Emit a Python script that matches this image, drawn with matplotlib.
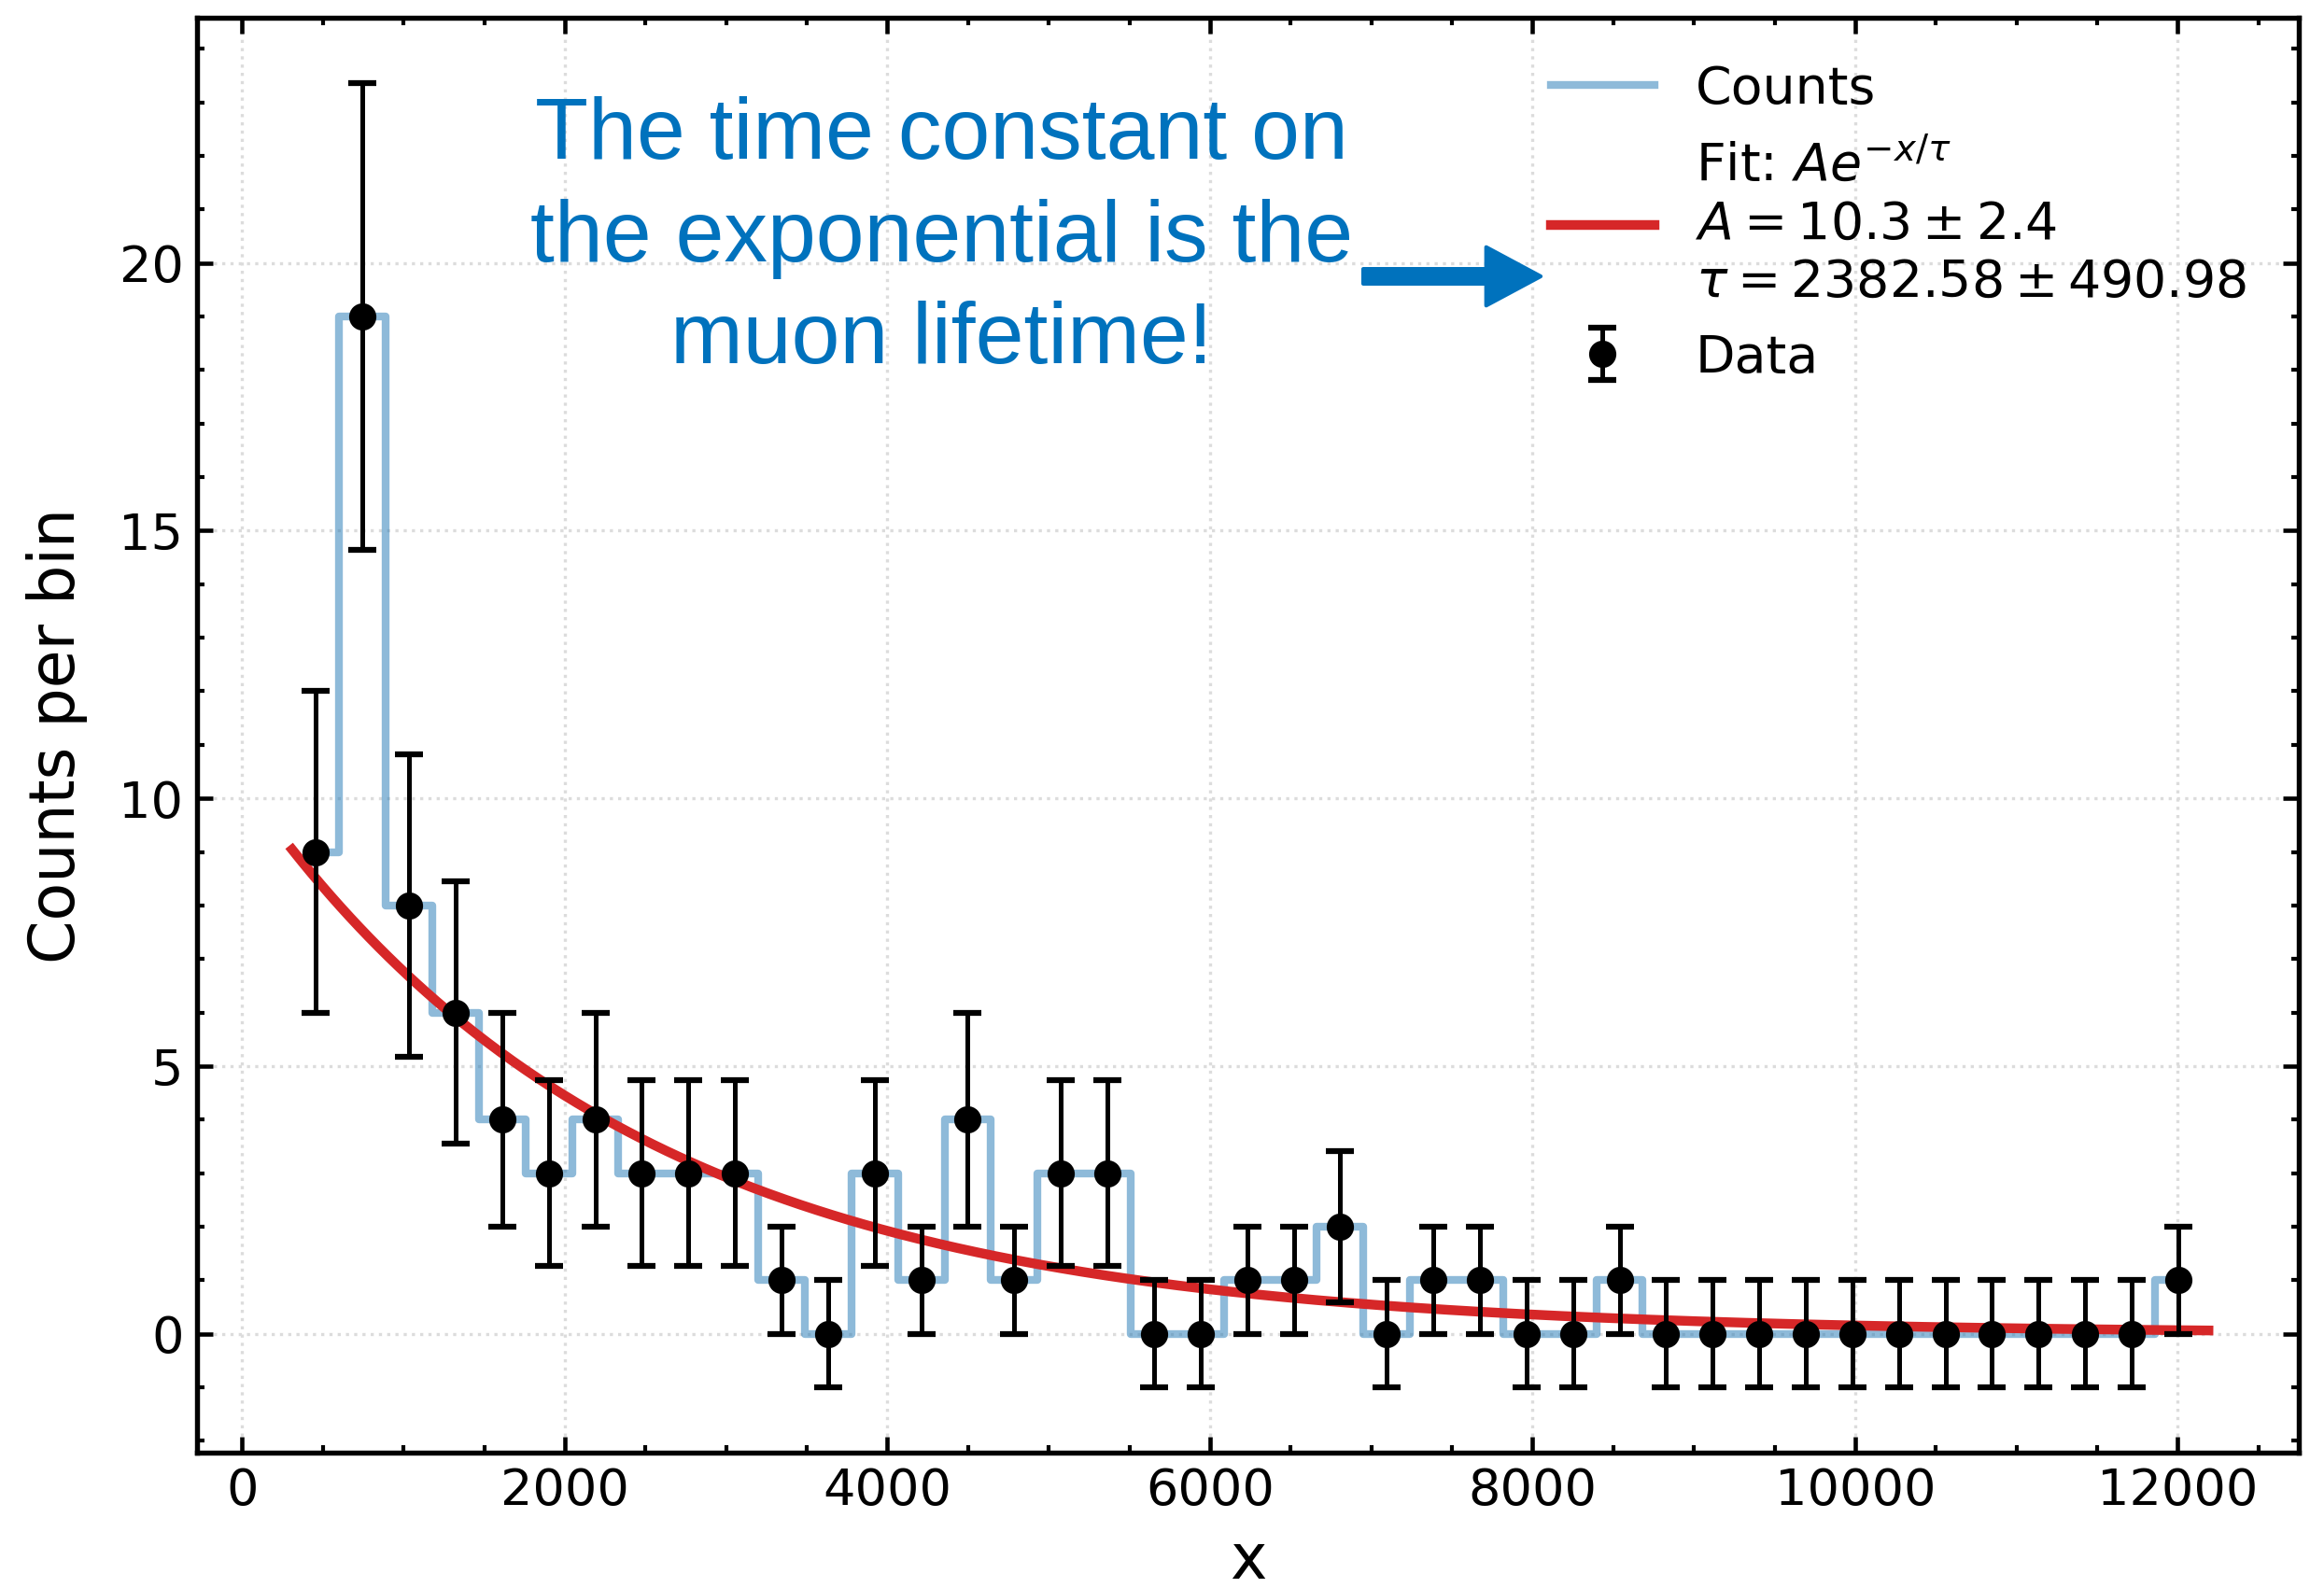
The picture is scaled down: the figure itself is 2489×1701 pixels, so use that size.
import numpy as np
import matplotlib
matplotlib.use("Agg")
import matplotlib.pyplot as plt
from matplotlib.ticker import MultipleLocator

# ---- data ----
bin_centers = np.linspace(457, 12003, 41)
counts = [9, 19, 8, 6, 4, 3, 4, 3, 3, 3, 1, 0, 3, 1, 4, 1, 3, 3, 0, 0,
          1, 1, 2, 0, 1, 1, 0, 0, 1, 0, 0, 0, 0, 0, 0, 0, 0, 0, 0, 0, 1]
errors = [3.0, 4.36, 2.83, 2.45, 2.0, 1.73, 2.0, 1.73, 1.73, 1.73, 1.0, 1.0,
          1.73, 1.0, 2.0, 1.0, 1.73, 1.73, 1.0, 1.0, 1.0, 1.0, 1.41, 1.0, 1.0,
          1.0, 1.0, 1.0, 1.0, 1.0, 1.0, 1.0, 1.0, 1.0, 1.0, 1.0, 1.0, 1.0,
          1.0, 1.0, 1.0]
fit_A = 10.3
fit_A_err = 2.4
fit_tau = 2382.58
fit_tau_err = 490.98
fit_range = (310, 12190)

plt.rcParams['font.family'] = ['DejaVu Sans']
plt.rcParams['mathtext.fontset'] = 'dejavusans'

fig = plt.figure(figsize=(2489 / 300, 1701 / 300), dpi=300)
ax = fig.add_axes([211 / 2489, 1 - 1556 / 1701, (2462 - 211) / 2489, (1556 - 19) / 1701])

ax.grid(True, which='major', linestyle=':', color='#dcdcdc', linewidth=0.8, zorder=0)

ax.step(bin_centers, counts, where='mid', color='#1f77b4', alpha=0.5, lw=2.0,
        label='Counts', zorder=2)

xf = np.linspace(fit_range[0], fit_range[1], 600)
yf = fit_A * np.exp(-xf / fit_tau)
fit_label = ("Fit: $Ae^{-x/\\tau}$\n"
             f"$A = {fit_A} \\pm {fit_A_err}$\n"
             f"$\\tau = {fit_tau} \\pm {fit_tau_err}$")
ax.plot(xf, yf, color='#d62728', lw=2.5, label=fit_label, zorder=3)

ax.errorbar(bin_centers, counts, yerr=errors, fmt='o', color='black',
            markersize=6, elinewidth=1.2, capsize=3.6, capthick=1.5,
            label='Data', zorder=4)

ax.set_xlim(-280, 12750)
ax.set_ylim(-2.22, 24.58)

ax.xaxis.set_major_locator(MultipleLocator(2000))
ax.xaxis.set_minor_locator(MultipleLocator(500))
ax.yaxis.set_major_locator(MultipleLocator(5))
ax.yaxis.set_minor_locator(MultipleLocator(1))
ax.tick_params(which='both', direction='in', top=True, right=True, labelsize=13)
ax.tick_params(which='major', length=4, width=1.1)
ax.tick_params(which='minor', length=2, width=1.0)
for s in ax.spines.values():
    s.set_linewidth(1.3)

ax.set_xlabel('x', fontsize=16, labelpad=4)
ax.set_ylabel('Counts per bin', fontsize=16, labelpad=8)

blue = '#0072BD'
ax.text(4334, 20.45, "The time constant on\nthe exponential is the\nmuon lifetime!",
        color=blue, fontsize=22.4, family=['Liberation Sans', 'DejaVu Sans'],
        ha='center', va='center', linespacing=1.35, zorder=5)
ax.annotate('', xy=(8050, 19.75), xytext=(6950, 19.75),
            arrowprops=dict(facecolor=blue, edgecolor=blue, width=3.8,
                            headwidth=15, headlength=14, shrink=0),
            zorder=5)

ax.legend(loc='upper right', bbox_to_anchor=(1 - 0.0075, 1 - 0.0072),
          frameon=False, fontsize=13.3, handlelength=2.0, handletextpad=0.8,
          labelspacing=0.48, borderaxespad=0.3)

fig.savefig('out.png', dpi=300)
